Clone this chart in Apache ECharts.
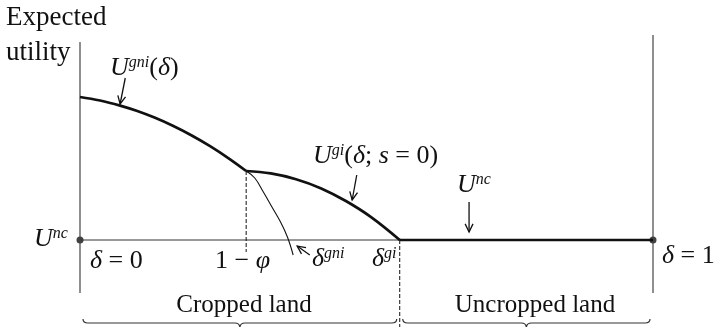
<!DOCTYPE html>
<html>
<head>
<meta charset="utf-8">
<script src="https://cdn.jsdelivr.net/npm/echarts@6/dist/echarts.min.js"></script>
<style>
  html, body { margin: 0; padding: 0; background: #fff; }
  #chart { width: 715px; height: 327px; }
</style>
</head>
<body>
<div id="chart"></div>
<script>
// delta on x (0..1), expected utility on y, measured relative to U^nc = 0
const gniDelta = [0, 0.035, 0.07, 0.10, 0.13, 0.162, 0.195, 0.227, 0.26, 0.29];
const gniU = [1.43, 1.395, 1.344, 1.29, 1.224, 1.142, 1.045, 0.938, 0.814, 0.69];

// U^gni carried on past 1 - phi (thin line)
const gniTailDelta = [0.29, 0.305, 0.32, 0.335, 0.35, 0.362, 0.372];
const gniTailU = [0.69, 0.62, 0.48, 0.33, 0.18, 0.03, -0.15];

// U^gi(delta; s = 0)
const giDelta = [0.29, 0.333, 0.377, 0.421, 0.464, 0.508, 0.558];
const giU = [0.69, 0.666, 0.608, 0.516, 0.39, 0.229, 0.0];

const deltaKink = 0.29;   // 1 - phi
const deltaGi = 0.558;    // delta^gi
const uNc = 0;

// arrows: [fromDelta, fromU, toDelta, toU]
const arrows = [
  [0.079, 1.62, 0.070, 1.36],
  [0.483, 0.65, 0.475, 0.40],
  [0.679, 0.38, 0.679, 0.08],
  [0.401, -0.15, 0.379, -0.06]
];

const zip = (xs, ys) => xs.map((x, i) => [x, ys[i]]);

const myChart = echarts.init(document.getElementById('chart'));

const serif = 'Liberation Serif';
const ink = '#111';
const rich = {
  m: { fontFamily: serif, fontSize: 26, fontStyle: 'italic', color: ink },
  r: { fontFamily: serif, fontSize: 26, color: ink },
  s: { fontFamily: serif, fontSize: 16, fontStyle: 'italic', color: ink, verticalAlign: 'top' }
};

function label(x, y, text, align) {
  return {
    type: 'text', x: x, y: y, silent: true,
    style: { text: text, rich: rich, fill: ink, align: align || 'left', verticalAlign: 'middle' }
  };
}
function plain(x, y, text, size, align) {
  return {
    type: 'text', x: x, y: y, silent: true,
    style: { text: text, fill: ink, font: size + 'px "' + serif + '"', align: align || 'left', verticalAlign: 'middle' }
  };
}

const thin = (data, w, type, color) => ({
  type: 'line', data: data, symbol: 'none', silent: true,
  lineStyle: { color: color || ink, width: w, type: type || 'solid' }
});

const braceY = -0.83;

const option = {
  animation: false,
  grid: { left: 80, right: 62, top: 30, bottom: 0 },
  xAxis: { type: 'value', min: 0, max: 1, show: false },
  yAxis: { type: 'value', min: -0.87, max: 2.10, show: false },
  series: [
    thin([[0, uNc], [deltaGi, uNc]], 1, 'solid', '#333'),
    thin([[0, 1.98], [0, -0.53]], 1.2, 'solid', '#444'),
    thin([[1, 2.05], [1, -0.53]], 1.2, 'solid', '#444'),
    thin([[deltaKink, giU[0]], [deltaKink, -0.12]], 1, 'dashed'),
    thin([[deltaGi, uNc], [deltaGi, -0.87]], 1, 'dashed'),
    Object.assign(thin(zip(gniDelta, gniU), 2.7), { smooth: 0.4 }),
    Object.assign(thin(zip(gniTailDelta, gniTailU), 1.1), { smooth: 0.4 }),
    Object.assign(thin(zip(giDelta, giU), 2.7), { smooth: 0.4 }),
    thin([[deltaGi, uNc], [1, uNc]], 2.7),
    {
      type: 'scatter', data: [[0, uNc], [1, uNc]], symbolSize: 7,
      itemStyle: { color: ink }, silent: true
    },
    {
      type: 'custom', silent: true,
      data: [[0, deltaGi], [deltaGi, 1]],
      renderItem: function (params, api) {
        const a = api.coord([api.value(0), braceY]);
        const b = api.coord([api.value(1), braceY]);
        const x0 = a[0] + 3, x1 = b[0] - 3, y = a[1], m = (x0 + x1) / 2, r = 5;
        return {
          type: 'path',
          shape: {
            pathData: 'M' + x0 + ',' + (y - 4) + ' Q' + x0 + ',' + y + ' ' + (x0 + r) + ',' + y +
              ' L' + (m - r) + ',' + y + ' Q' + m + ',' + y + ' ' + m + ',' + (y + r) +
              ' Q' + m + ',' + y + ' ' + (m + r) + ',' + y +
              ' L' + (x1 - r) + ',' + y + ' Q' + x1 + ',' + y + ' ' + x1 + ',' + (y - 4)
          },
          style: { stroke: '#333', fill: null, lineWidth: 1.2 }
        };
      }
    },
    {
      type: 'custom', silent: true,
      data: arrows,
      renderItem: function (params, api) {
        const p0 = api.coord([api.value(0), api.value(1)]);
        const p1 = api.coord([api.value(2), api.value(3)]);
        const ang = Math.atan2(p1[1] - p0[1], p1[0] - p0[0]);
        const h = 9, w = 0.45;
        const l = [p1[0] - h * Math.cos(ang - w), p1[1] - h * Math.sin(ang - w)];
        const r = [p1[0] - h * Math.cos(ang + w), p1[1] - h * Math.sin(ang + w)];
        return {
          type: 'group',
          children: [
            { type: 'line', shape: { x1: p0[0], y1: p0[1], x2: p1[0], y2: p1[1] }, style: { stroke: ink, lineWidth: 1.3 } },
            { type: 'polyline', shape: { points: [l, p1, r] }, style: { stroke: ink, fill: null, lineWidth: 1.3 } }
          ]
        };
      }
    }
  ],
  graphic: [
    plain(6, 18, 'Expected', 27),
    plain(6, 53, 'utility', 27),
    label(110, 68, '{m|U}{s|gni}{r|(}{m|δ}{r|)}'),
    label(313, 156, '{m|U}{s|gi}{r|(}{m|δ}{r|; }{m|s}{r| = 0)}'),
    label(457, 185, '{m|U}{s|nc}'),
    label(34, 239, '{m|U}{s|nc}'),
    label(90, 261, '{m|δ}{r| = 0}'),
    label(215, 261, '{r|1 − }{m|φ}'),
    label(312, 259, '{m|δ}{s|gni}'),
    label(372, 259, '{m|δ}{s|gi}'),
    label(662, 256, '{m|δ}{r| = 1}'),
    plain(244, 305, 'Cropped land', 25, 'center'),
    plain(535, 305, 'Uncropped land', 25, 'center')
  ]
};

myChart.setOption(option);
</script>
</body>
</html>
